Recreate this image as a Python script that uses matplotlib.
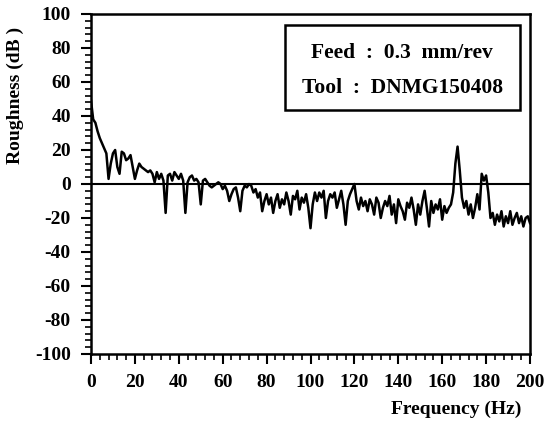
import matplotlib
matplotlib.use("Agg")
import matplotlib.pyplot as plt
from matplotlib.ticker import MultipleLocator
from matplotlib.patches import Rectangle

freq = list(range(0, 201))
roughness = [
    49, 38, 36, 31, 27, 24, 21, 18, 3, 12,
    18, 20, 10, 6, 19, 18, 14, 15, 17, 10,
    3, 8, 12, 10, 9, 8, 7, 8, 6, 1,
    7, 3, 6, 2, -17, 5, 6, 2, 7, 5,
    3, 6, 2, -17, 1, 4, 5, 2, 3, 1,
    -12, 2, 3, 1, -1, -2, -1, 0, 1, 0,
    -3, -1, -4, -10, -6, -3, -2, -8, -16, -4,
    -1, -2, 0, -1, -5, -3, -8, -5, -16, -10,
    -6, -12, -8, -17, -10, -6, -14, -9, -12, -5,
    -10, -18, -7, -9, -4, -15, -8, -11, -6, -14,
    -26, -12, -5, -10, -5, -8, -4, -20, -10, -6,
    -8, -5, -14, -9, -4, -12, -24, -10, -6, -3,
    0, -10, -15, -8, -13, -10, -16, -9, -12, -18,
    -8, -11, -20, -14, -10, -13, -7, -18, -12, -23,
    -9, -13, -16, -21, -11, -14, -8, -15, -24, -12,
    -18, -10, -4, -14, -25, -10, -17, -12, -15, -9,
    -21, -13, -17, -14, -12, -5, 12, 22, 8, -8,
    -14, -10, -18, -12, -20, -14, -6, -15, 6, 2,
    5, -5, -20, -17, -24, -18, -22, -16, -25, -19,
    -23, -16, -24, -20, -17, -23, -19, -25, -20, -19,
    -23,
]
xticks = [0, 20, 40, 60, 80, 100, 120, 140, 160, 180, 200]
yticks = [-100, -80, -60, -40, -20, 0, 20, 40, 60, 80, 100]
legend_lines = ["Feed  :  0.3  mm/rev", "Tool  :  DNMG150408"]

plt.rcParams['font.family'] = ['Liberation Serif', 'DejaVu Serif']
plt.rcParams['font.weight'] = 'bold'
plt.rcParams['axes.unicode_minus'] = False

fig = plt.figure(figsize=(5.47, 4.24), dpi=100)
ax = fig.add_axes([91/547, 1-354/424, (530-91)/547, (354-14)/424])

ax.plot(freq, roughness, color='black', lw=1.8)
ax.axhline(0, color='black', lw=1.5)

ax.set_xlim(0, 200)
ax.set_ylim(-100, 100)
ax.set_xticks(xticks)
ax.set_yticks(yticks)
ax.xaxis.set_minor_locator(MultipleLocator(4))
ax.yaxis.set_minor_locator(MultipleLocator(4))
ax.tick_params(which='major', direction='out', length=7.5, width=1.5, labelsize=14, pad=7)
ax.tick_params(which='minor', direction='out', length=4.5, width=1.2)
for lab in ax.get_xticklabels() + ax.get_yticklabels():
    lab.set_fontweight('bold')
for s in ax.spines.values():
    s.set_linewidth(1.8)

fig.text(15/547, 1-95/424, "Roughness (dB )", rotation=90, ha='center', va='center',
         fontsize=14, fontweight='bold')
fig.text(521/547, 1-409/424, "Frequency (Hz)", ha='right', va='center',
         fontsize=14, fontweight='bold')

ax.add_patch(Rectangle((0.442, 0.718), 0.977-0.442, 0.968-0.718, transform=ax.transAxes,
                       facecolor='white', edgecolor='black', lw=1.8, zorder=3))
ax.text(0.709, 0.885, legend_lines[0], transform=ax.transAxes, ha='center', va='center',
        fontsize=15.5, fontweight='bold', zorder=4)
ax.text(0.709, 0.782, legend_lines[1], transform=ax.transAxes, ha='center', va='center',
        fontsize=15.5, fontweight='bold', zorder=4)

fig.savefig("out.png", dpi=100)
